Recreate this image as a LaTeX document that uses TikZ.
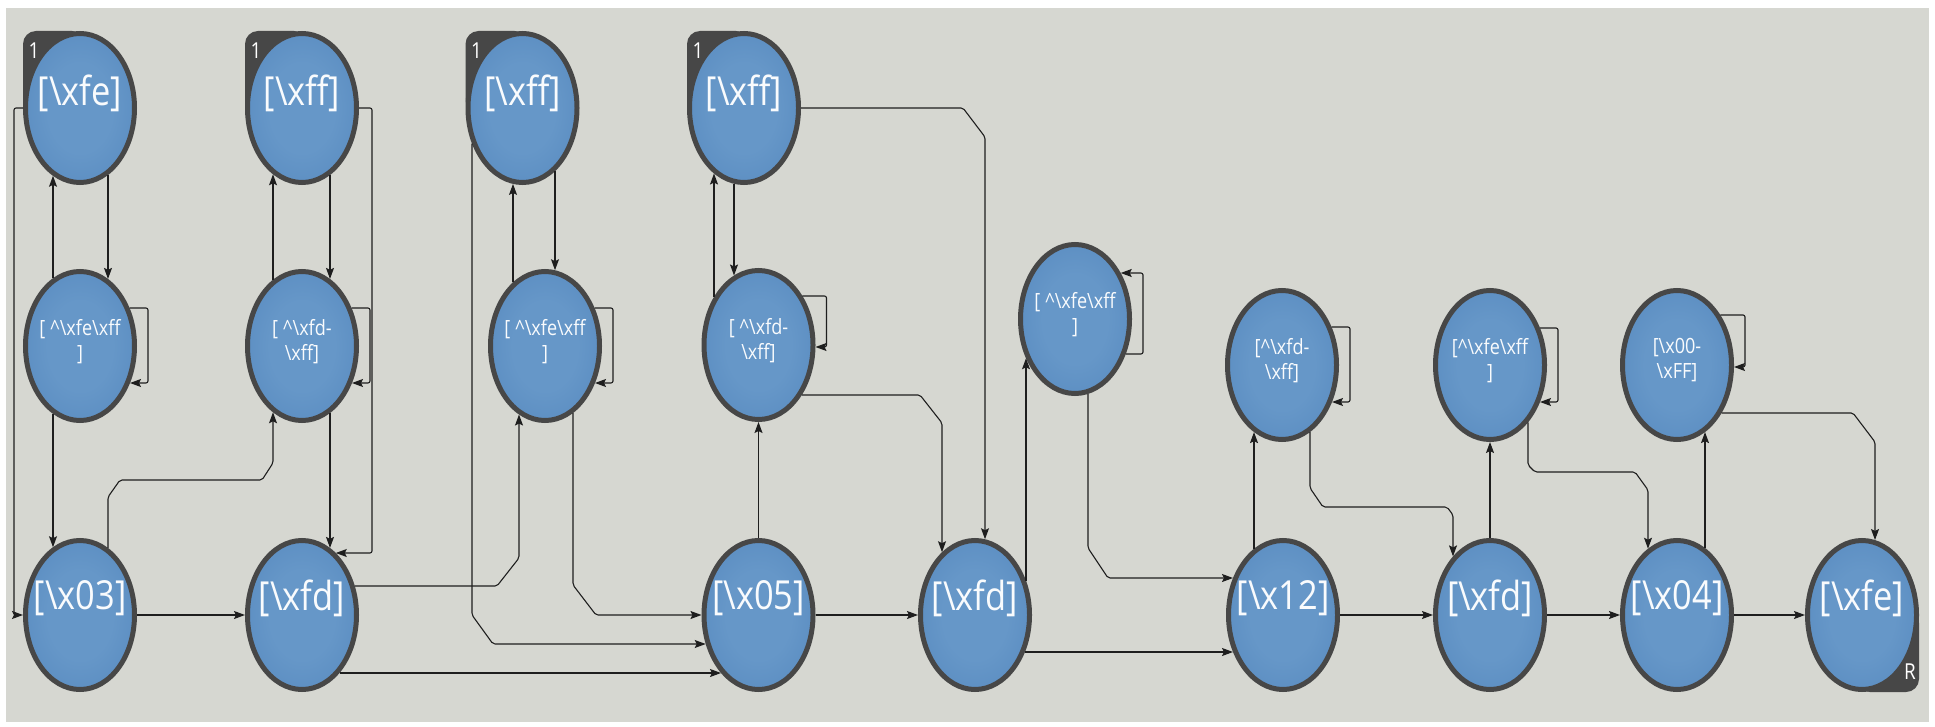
\documentclass[tikz,border=0pt]{standalone}
\usepackage{fontspec}
\newfontfamily\lblfont{Open Sans}[FakeStretch=0.86]
\usetikzlibrary{shapes.geometric,arrows.meta,calc,backgrounds}

\definecolor{pagebg}{HTML}{D6D7D1}
\definecolor{rim}{HTML}{474747}
\definecolor{blueC}{HTML}{6697C8}
\definecolor{blueE}{HTML}{5285BC}
\definecolor{blueD}{HTML}{3B6896}
\definecolor{wirec}{HTML}{1E1E1E}

\pgfdeclareradialshading{orbfill}{\pgfpoint{0bp}{0bp}}{%
  color(0bp)=(blueC); color(15bp)=(blueC); color(40bp)=(blueE);
  color(46bp)=(blueE); color(49bp)=(blueD); color(50bp)=(blueD)}

\newcommand\bsl{\textbackslash}
\newcommand\crt{\textasciicircum}

% self loop on the right side of a state: leaves at height #2, comes back at height #3
\newcommand\loopwire[3]{%
  \pgfmathsetmacro\lpa{57*sqrt(1-((#2)/77)^2)}%
  \pgfmathsetmacro\lpb{57*sqrt(1-((#3)/77)^2)}%
  \draw[wire] ($(#1.center)+(\lpa,#2)$) -- ($(#1.center)+(68,#2)$)
    -- ($(#1.center)+(68,#3)$) -- ($(#1.center)+(\lpb,#3)$);}

\tikzset{
  orbnode/.style={ellipse, minimum width=109pt, minimum height=149pt,
    inner sep=0pt, outer sep=2.5pt, line width=5pt, draw=rim, shading=orbfill},
  bigtxt/.style={font=\lblfont\fontsize{40}{44}\selectfont, text=white!96!blueC, inner sep=0pt},
  smalltxt/.style={font=\lblfont\fontsize{21}{25}\selectfont, text=white!96!blueC,
    align=center, inner sep=0pt},
  taglbl/.style={font=\lblfont\fontsize{22}{23}\selectfont, text=white, inner sep=0pt},
  wire/.style={draw=wirec, line width=1.1pt, rounded corners=2pt,
    -{Stealth[length=11pt,width=8pt,inset=2pt]}},
}

\begin{document}
\begin{tikzpicture}[x=1pt,y=-1pt]
\path[use as bounding box] (0,0) rectangle (1935,727);

% ---- states ----
\node[orbnode] (top1) at (80,108) {};
\node[orbnode] (top2) at (302,108) {};
\node[orbnode] (top3) at (522.5,108) {};
\node[orbnode] (top4) at (744,108) {};

\node[orbnode] (mid1) at (80,346) {};
\node[orbnode] (mid2) at (302,346) {};
\node[orbnode] (mid3) at (545,346) {};
\node[orbnode] (mid4) at (758.5,345) {};
\node[orbnode] (mid5) at (1075,319) {};
\node[orbnode] (mid6) at (1282,365) {};
\node[orbnode] (mid7) at (1490,365) {};
\node[orbnode] (mid8) at (1677,365) {};

\node[orbnode] (bot1) at (80,615) {};
\node[orbnode] (bot2) at (302,615) {};
\node[orbnode] (bot3) at (758.5,615) {};
\node[orbnode] (bot4) at (975,615) {};
\node[orbnode] (bot5) at (1283,615) {};
\node[orbnode] (bot6) at (1490,615) {};
\node[orbnode] (bot7) at (1677,615) {};
\node[orbnode] (bot8) at (1862,615) {};

% ---- state texts ----
\node[bigtxt] (top1t) at ($(top1.center)+(0,-15)$) {[\bsl xfe]};
\node[bigtxt] (top2t) at ($(top2.center)+(0,-15)$) {[\bsl xff]};
\node[bigtxt] (top3t) at ($(top3.center)+(0,-15)$) {[\bsl xff]};
\node[bigtxt] (top4t) at ($(top4.center)+(0,-15)$) {[\bsl xff]};

\node[smalltxt] (mid1t) at ($(mid1.center)+(0,-4.5)$) {[ \crt\bsl xfe\bsl xff\\]};
\node[smalltxt] (mid2t) at ($(mid2.center)+(0,-4.5)$) {[ \crt\bsl xfd-\\\bsl xff]};
\node[smalltxt] (mid3t) at ($(mid3.center)+(0,-4.5)$) {[ \crt\bsl xfe\bsl xff\\]};
\node[smalltxt] (mid4t) at ($(mid4.center)+(0,-4.5)$) {[ \crt\bsl xfd-\\\bsl xff]};
\node[smalltxt] (mid5t) at ($(mid5.center)+(0,-4.5)$) {[ \crt\bsl xfe\bsl xff\\]};
\node[smalltxt] (mid6t) at ($(mid6.center)+(0,-4.5)$) {[\crt\bsl xfd-\\\bsl xff]};
\node[smalltxt] (mid7t) at ($(mid7.center)+(0,-4.5)$) {[\crt\bsl xfe\bsl xff\\]};
\node[smalltxt] (mid8t) at ($(mid8.center)+(0,-4.5)$) {[\bsl x00-\\\bsl xFF]};

\node[bigtxt] (bot1t) at ($(bot1.center)+(0,-17)$) {[\bsl x03]};
\node[bigtxt] (bot2t) at ($(bot2.center)+(0,-17)$) {[\bsl xfd]};
\node[bigtxt] (bot3t) at ($(bot3.center)+(0,-17)$) {[\bsl x05]};
\node[bigtxt] (bot4t) at ($(bot4.center)+(0,-17)$) {[\bsl xfd]};
\node[bigtxt] (bot5t) at ($(bot5.center)+(0,-17)$) {[\bsl x12]};
\node[bigtxt] (bot6t) at ($(bot6.center)+(0,-17)$) {[\bsl xfd]};
\node[bigtxt] (bot7t) at ($(bot7.center)+(0,-17)$) {[\bsl x04]};
\node[bigtxt] (bot8t) at ($(bot8.center)+(0,-17)$) {[\bsl xfe]};

% ---- page and corner tags ----
\begin{scope}[on background layer]
  \fill[white] (0,0) rectangle (1935,727);
  \fill[pagebg] (6,8) rectangle (1929,722);
  \foreach \s in {top1,top2,top3,top4}{
    \fill[rim, rounded corners=13pt] ($(\s.center)+(-57,-77)$) rectangle ($(\s.center)+(5,5)$);
  }
  \fill[rim, rounded corners=13pt] ($(bot8.center)+(-5,-5)$) rectangle ($(bot8.center)+(57,77)$);
\end{scope}
\node[taglbl] (tag1) at ($(top1.center)+(-46,-57)$) {1};
\node[taglbl] (tag2) at ($(top2.center)+(-46,-57)$) {1};
\node[taglbl] (tag3) at ($(top3.center)+(-46,-57)$) {1};
\node[taglbl] (tag4) at ($(top4.center)+(-46,-57)$) {1};
\node[taglbl] (tag5) at ($(bot8.center)+(48,57)$) {R};

% ---- transitions: first column ----
\draw[wire] ($(top1.center)+(28,67.1)$) -- ($(mid1.center)+(28,-67.1)$);
\draw[wire] ($(mid1.center)+(-27,-67.8)$) -- ($(top1.center)+(-27,67.8)$);
\loopwire{mid1}{-38}{37}
\draw[wire] ($(mid1.center)+(-27,67.8)$) -- ($(bot1.center)+(-27,-67.8)$);
\draw[wire] (top1.west) -- ++(-9,0) |- (bot1.west);
\draw[wire] ($(bot1.center)+(28,-67.1)$) -- (108,497) -- (120,480) -- (262,480)
  -- (273,463) -- ($(mid2.center)+(-29,66.3)$);
\draw[wire] (bot1.east) -- (bot2.west);

% ---- second column ----
\draw[wire] ($(top2.center)+(28,67.1)$) -- ($(mid2.center)+(28,-67.1)$);
\draw[wire] ($(mid2.center)+(-29,-66.3)$) -- ($(top2.center)+(-29,66.3)$);
\loopwire{mid2}{-38}{37}
\draw[wire] ($(mid2.center)+(28,67.1)$) -- ($(bot2.center)+(28,-67.1)$);
\draw[wire] (top2.east) -| ($(bot2.center)+(70,-62)$) -- ($(bot2.center)+(33.8,-62)$);
\draw[wire] ($(bot2.center)+(52.8,-29)$) -- (497,586) -- (519,558)
  -- ($(mid3.center)+(-26,68.5)$);
\draw[wire] ($(bot2.center)+(37.5,58)$) -- ($(bot3.center)+(-37.5,58)$);

% ---- third column ----
\draw[wire] ($(top3.center)+(32.5,63.3)$) -- ($(mid3.center)+(10,-75.8)$);
\draw[wire] ($(mid3.center)+(-32,-63.7)$) -- ($(top3.center)+(-9.5,75.9)$);
\loopwire{mid3}{-38}{37}
\draw[wire] ($(top3.center)+(-50.5,35.7)$) -- (472,615) -- (493,644)
  -- ($(bot3.center)+(-52.8,29)$);
\draw[wire] ($(mid3.center)+(28,67.1)$) -- (573,585) -- (596,615) -- (bot3.west);

% ---- fourth column ----
\draw[wire] ($(top4.center)+(-10,75.8)$) -- ($(mid4.center)+(-24.5,-69.5)$);
\draw[wire] ($(mid4.center)+(-44.5,-48.1)$) -- ($(top4.center)+(-30,65.5)$);
\loopwire{mid4}{-49}{2}
\draw[wire] (bot3.north) -- (mid4.south);
\draw[wire] ($(mid4.center)+(43.3,50)$) -- (920,395) -- (942,423)
  -- ($(bot4.center)+(-33,-62.8)$);
\draw[wire] (top4.east) -- (963,108) -- (985,137) -- ($(bot4.center)+(10,-75.8)$);
\draw[wire] (bot3.east) -- (bot4.west);

% ---- right part ----
\draw[wire] ($(bot4.center)+(51,-34.4)$) -- ($(mid5.center)+(-49,39.3)$);
\loopwire{mid5}{35}{-46}
\draw[wire] ($(mid5.center)+(13,75)$) -- (1088,548) -- (1108,578)
  -- ($(bot5.center)+(-50,-37)$);
\draw[wire] ($(bot4.center)+(50,37)$) -- ($(bot5.center)+(-50,37)$);

\draw[wire] ($(bot5.center)+(-29,-66.3)$) -- ($(mid6.center)+(-28,67.1)$);
\loopwire{mid6}{-38}{37}
\draw[wire] ($(mid6.center)+(28,67.1)$) -- (1310,488) -- (1323,507) -- (1447,507)
  -- (1453,515) -- ($(bot6.center)+(-37,-58.6)$);
\draw[wire] (bot5.east) -- (bot6.west);

\draw[wire] (bot6.north) -- (mid7.south);
\loopwire{mid7}{-37}{37}
\draw[wire] ($(mid7.center)+(38,57.4)$) -- (1528,465) -- (1535,472) -- (1635,472)
  -- (1648,490) -- ($(bot7.center)+(-29,-66.3)$);
\draw[wire] (bot6.east) -- (bot7.west);

\draw[wire] ($(bot7.center)+(28,-67.1)$) -- ($(mid8.center)+(28,67.1)$);
\loopwire{mid8}{-50}{2}
\draw[wire] ($(mid8.center)+(44.6,48)$) -- (1853,413) -- (1875,442)
  -- ($(bot8.center)+(13,-75)$);
\draw[wire] (bot7.east) -- (bot8.west);
\end{tikzpicture}
\end{document}
